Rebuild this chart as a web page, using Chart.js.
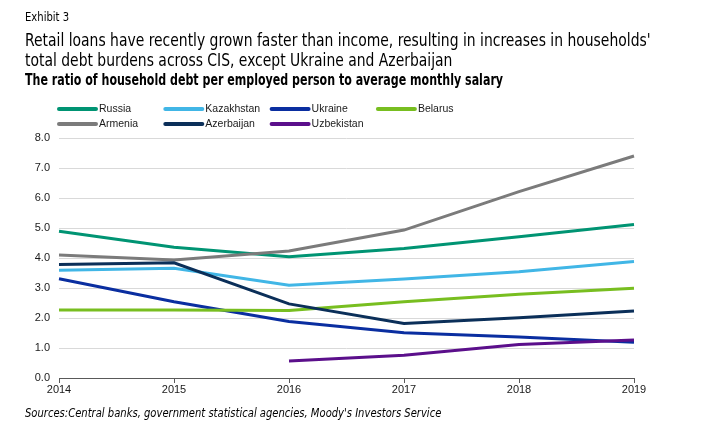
<!DOCTYPE html>
<html>
<head>
<meta charset="utf-8">
<script src="https://cdn.jsdelivr.net/npm/chart.js@4/dist/chart.umd.min.js"></script>
<style>
  body { margin: 0; background: #fff; }
  #wrap { position: relative; width: 727px; height: 440px; }
  canvas { position: absolute; left: 0; top: 0; }
  .txt { position: absolute; left: 25px; color: #000; white-space: nowrap; transform-origin: left top;
         font-family: "Liberation Sans Narrow", "DejaVu Sans Condensed", "Roboto Condensed", sans-serif; }
  #exhibit { top: 10px; font-size: 12px; transform: scaleX(0.93); }
  #title { top: 30px; font-size: 17px; line-height: 20px; transform: scaleX(0.91); }
  #subtitle { top: 71px; font-size: 15px; font-weight: bold; transform: scaleX(0.82); }
  #source { top: 405px; font-size: 12.5px; font-style: italic; transform: scaleX(0.89); }
</style>
</head>
<body>
<div id="wrap">
  <canvas id="chart" width="727" height="440"></canvas>
  <div class="txt" id="exhibit">Exhibit 3</div>
  <div class="txt" id="title">Retail loans have recently grown faster than income, resulting in increases in households'<br>total debt burdens across CIS, except Ukraine and Azerbaijan</div>
  <div class="txt" id="subtitle">The ratio of household debt per employed person to average monthly salary</div>
  <div class="txt" id="source">Sources:Central banks, government statistical agencies, Moody's Investors Service</div>
</div>
<script>
const years = ['2014', '2015', '2016', '2017', '2018', '2019'];
const yTicks = [0, 1, 2, 3, 4, 5, 6, 7, 8];

const russia = [4.89, 4.36, 4.04, 4.32, 4.71, 5.12];
const kazakhstan = [3.59, 3.66, 3.09, 3.30, 3.54, 3.88];
const ukraine = [3.31, 2.54, 1.88, 1.51, 1.37, 1.19];
const belarus = [2.27, 2.27, 2.25, 2.54, 2.79, 2.99];
const armenia = [4.10, 3.93, 4.23, 4.93, 6.21, 7.40];
const azerbaijan = [3.78, 3.84, 2.47, 1.82, 2.01, 2.23];
const uzbekistan = [null, null, 0.57, 0.76, 1.12, 1.27];

const names = ['Russia', 'Kazakhstan', 'Ukraine', 'Belarus', 'Armenia', 'Azerbaijan', 'Uzbekistan'];
const series = [russia, kazakhstan, ukraine, belarus, armenia, azerbaijan, uzbekistan];
const colors = ['#009473', '#41b6e6', '#0a2ea0', '#78be20', '#7b7b7b', '#0b2f59', '#5b0f8b'];

// grid legend like the original, 4 columns
const gridLegend = {
  id: 'gridLegend',
  afterDraw(chart) {
    const ctx = chart.ctx;
    ctx.save();
    ctx.font = '10.5px "Liberation Sans", Arial, sans-serif';
    ctx.textBaseline = 'middle';
    chart.data.datasets.forEach((ds, i) => {
      const col = i % 4;
      const row = Math.floor(i / 4);
      const x = 58 + col * 106.3;
      const y = 109 + row * 15;
      ctx.strokeStyle = ds.borderColor;
      ctx.lineWidth = 4;
      ctx.lineCap = 'round';
      ctx.beginPath();
      ctx.moveTo(x + 1, y);
      ctx.lineTo(x + 38, y);
      ctx.stroke();
      ctx.fillStyle = '#1a1a1a';
      ctx.fillText(ds.label, x + 41, y);
    });
    ctx.restore();
  }
};

const datasets = names.map((name, i) => ({
  label: name,
  data: series[i],
  borderColor: colors[i],
  backgroundColor: colors[i],
  borderWidth: 3,
  pointRadius: 0,
  tension: 0,
  fill: false,
  order: names.length - i,
}));

new Chart(document.getElementById('chart'), {
  type: 'line',
  data: { labels: years, datasets },
  plugins: [gridLegend],
  options: {
    responsive: false,
    animation: false,
    layout: { padding: { top: 138, left: 0, right: 93, bottom: 42 } },
    plugins: {
      legend: { display: false },
      tooltip: { enabled: false },
    },
    scales: {
      x: {
        offset: false,
        grid: { drawOnChartArea: false, drawTicks: true, tickLength: 5, color: '#595959' },
        border: { display: true, color: '#595959', width: 1 },
        ticks: { color: '#1a1a1a', font: { family: '"Liberation Sans", Arial, sans-serif', size: 11 }, padding: 0, maxRotation: 0 },
        afterFit(scale) { scale.height = 20; },
      },
      y: {
        min: 0,
        max: 8,
        afterBuildTicks(scale) { scale.ticks = yTicks.map(v => ({ value: v })); },
        grid: { color: '#d9d9d9', lineWidth: 1, drawTicks: false },
        border: { display: false },
        ticks: {
          color: '#1a1a1a',
          font: { family: '"Liberation Sans", Arial, sans-serif', size: 11 },
          padding: 9,
          callback: v => v.toFixed(1),
        },
        afterFit(scale) { scale.width = 59; },
      },
    },
  },
});
</script>
</body>
</html>
